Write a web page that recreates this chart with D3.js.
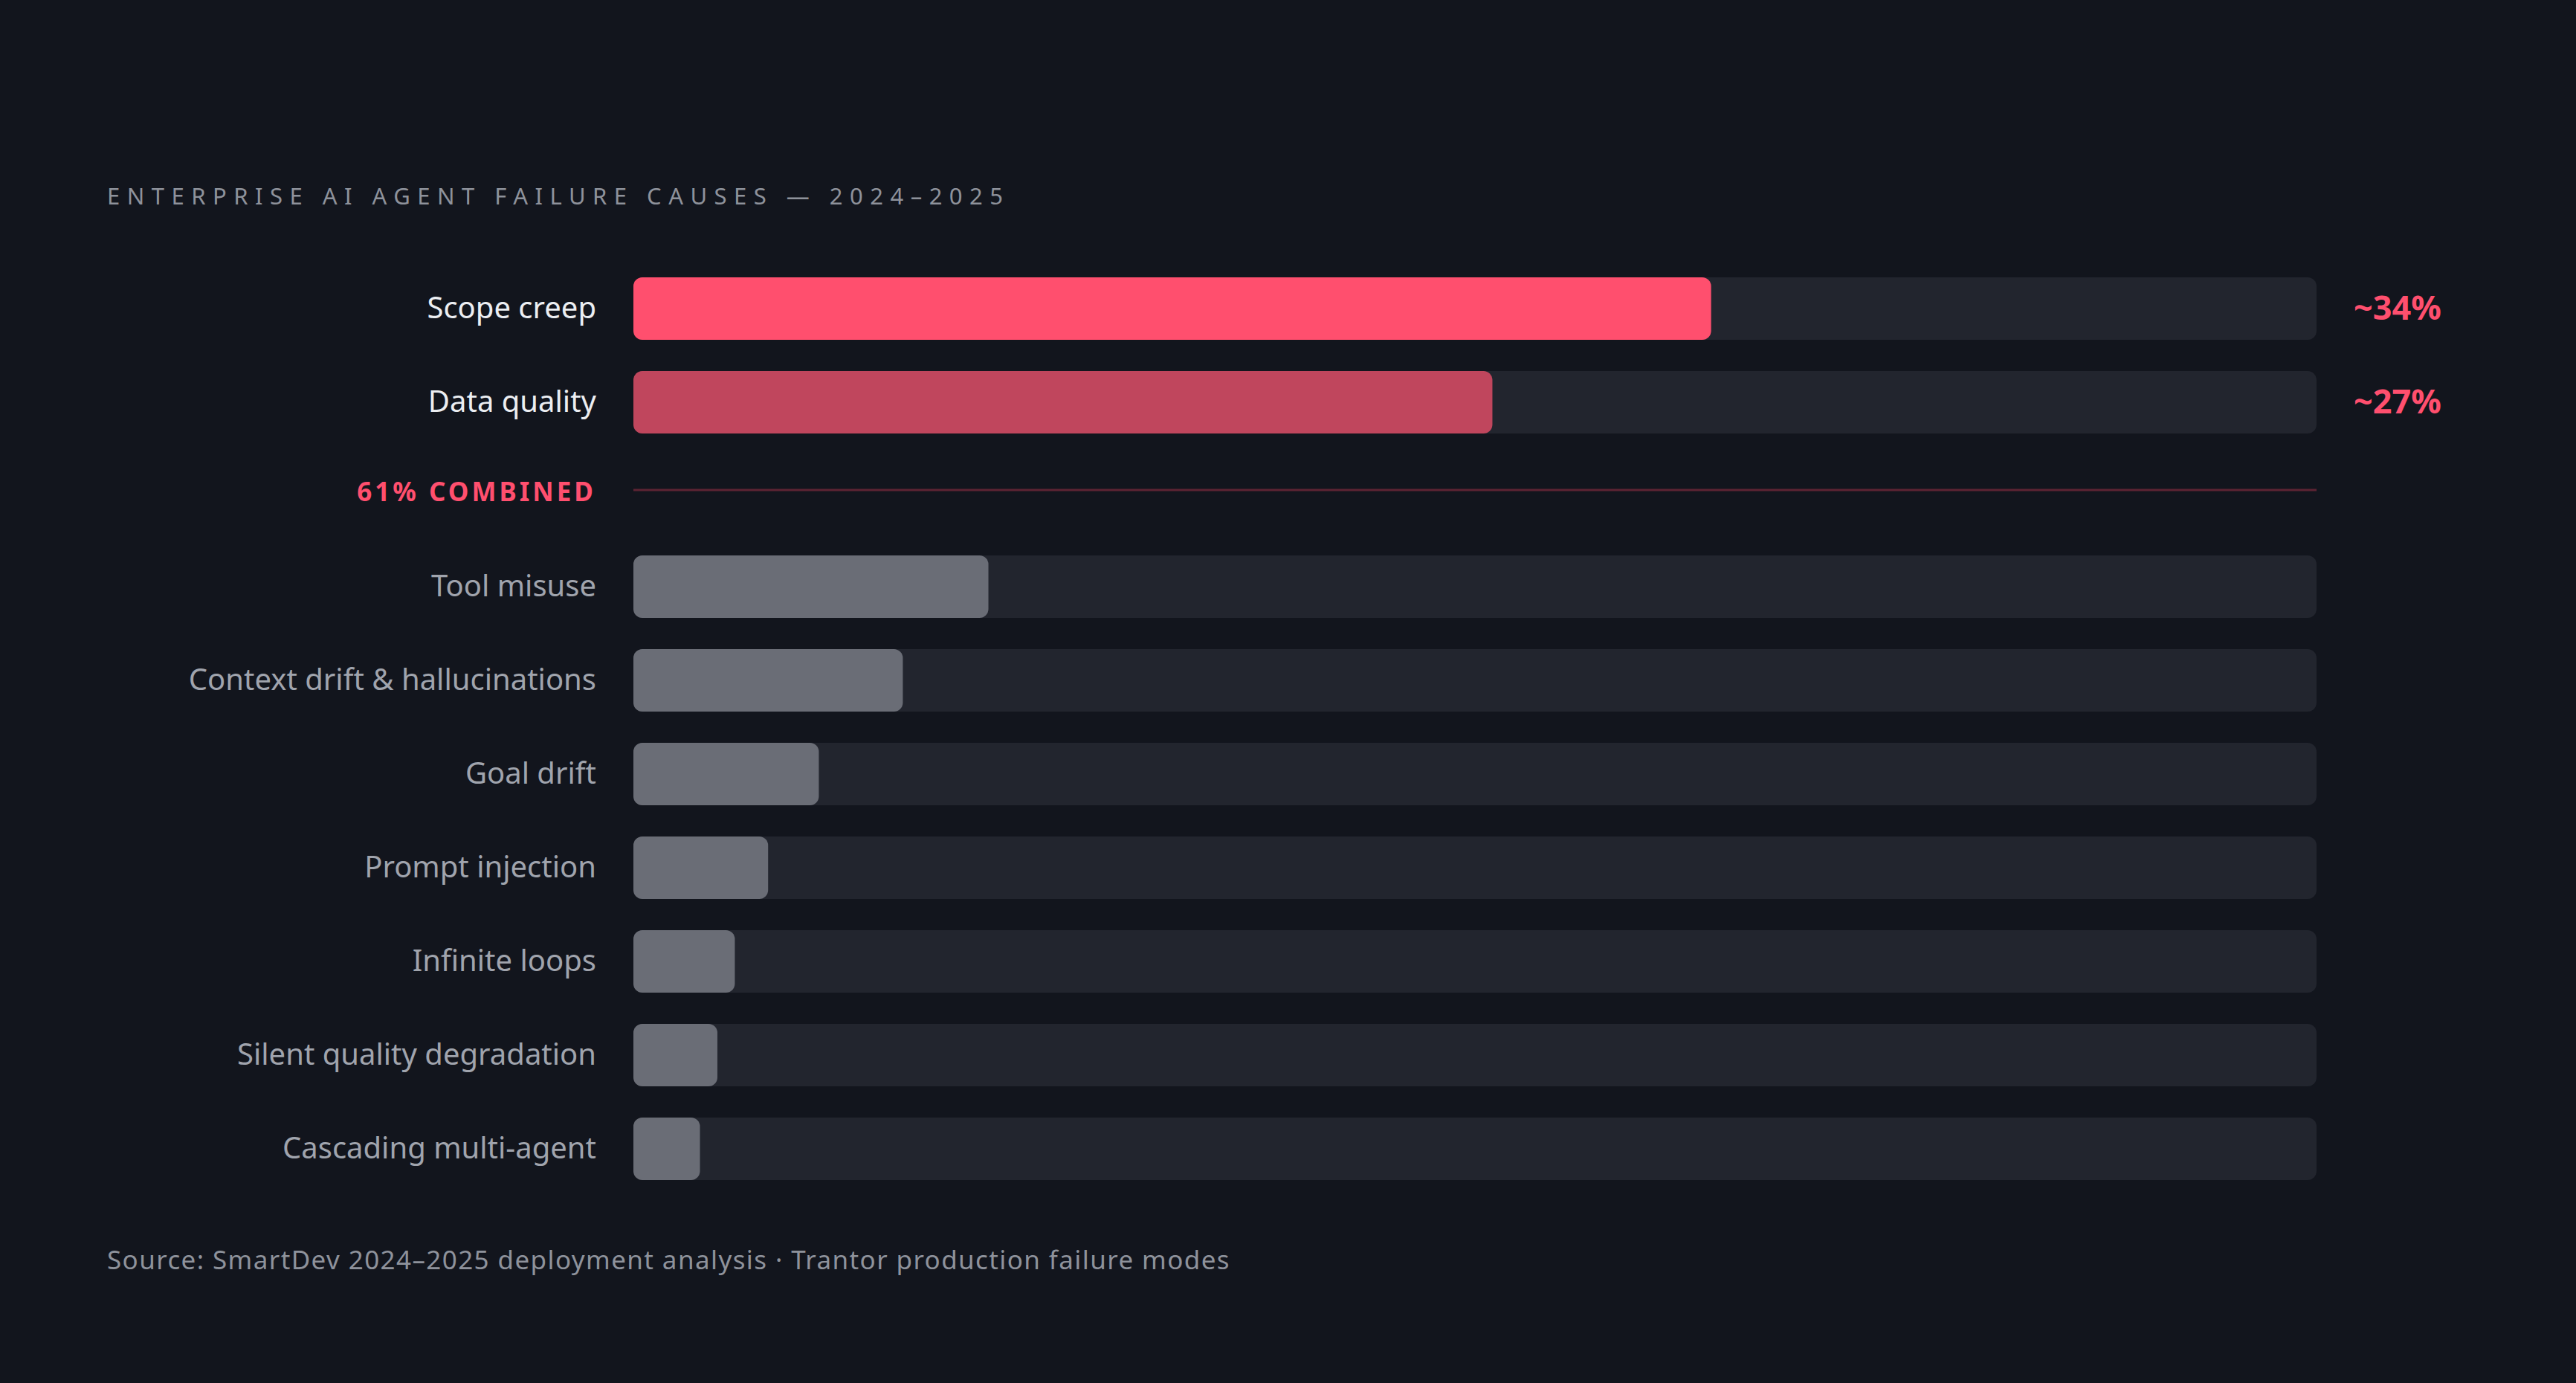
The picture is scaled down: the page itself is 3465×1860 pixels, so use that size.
<!DOCTYPE html>
<html>
<head>
	<meta charset="utf-8">
	<title>Enterprise AI agent failure causes</title>
	<script src="https://cdn.jsdelivr.net/npm/d3@7/dist/d3.min.js"></script>
	<style>
		html, body { margin: 0; padding: 0; background: #12151d; }
		svg { display: block; }
	</style>
</head>
<body>
	<svg id="chart" width="3465" height="1860"></svg>

	<script type="text/javascript">
		// data (share of failures, %)
		var categories = ["Scope creep", "Data quality", "Tool misuse", "Context drift & hallucinations",
			"Goal drift", "Prompt injection", "Infinite loops", "Silent quality degradation", "Cascading multi-agent"]
		var values = [34, 27.1, 11.2, 8.5, 5.85, 4.25, 3.2, 2.65, 2.1]
		var valueLabels = ["~34%", "~27%", "", "", "", "", "", "", ""]
		var highlighted = 2   // first two rows are the highlighted group
		var combinedLabel = "61% COMBINED"
		var xMax = 53.1

		var title = "ENTERPRISE AI AGENT FAILURE CAUSES \u2014 2024\u20132025"
		var source = "Source: SmartDev 2024\u20132025 deployment analysis \u00b7 Trantor production failure modes"

		var svg = d3.select("#chart")
		var marginLeft = 852, marginRight = 3116, marginTop = 373
		var groupGap = 122

		var x = d3.scaleLinear().domain([0, xMax]).range([marginLeft, marginRight])
		var y = d3.scaleBand().domain(categories)
			.range([marginTop, marginTop + 126 * (categories.length - 1 / 3)])
			.paddingInner(1 / 3).paddingOuter(0)

		var rows = categories.map((c, i) => ({
			name: c, value: values[i], label: valueLabels[i], i: i,
			y: y(c) + (i >= highlighted ? groupGap : 0)
		}))

		var barColors = ["#ff4f6e", "#c0465d"]

		// title
		svg.append("text")
			.attr("x", 144).attr("y", 275)
			.attr("fill", "#8e929b")
			.attr("font-family", "Noto Sans")
			.attr("font-size", 31)
			.attr("textLength", 1205)
			.attr("lengthAdjust", "spacing")
			.text(title)

		var row = svg.selectAll("g.row")
			.data(rows)
			.enter()
			.append("g")
			.attr("class", "row")
			.attr("transform", d => "translate(0," + d.y + ")")

		// track
		row.append("rect")
			.attr("x", x(0)).attr("y", 0)
			.attr("width", x(xMax) - x(0))
			.attr("height", y.bandwidth())
			.attr("rx", 12)
			.attr("fill", "#22252e")

		// value bar
		row.append("rect")
			.attr("x", x(0)).attr("y", 0)
			.attr("width", d => x(d.value) - x(0))
			.attr("height", y.bandwidth())
			.attr("rx", 12)
			.attr("fill", d => d.i < highlighted ? barColors[d.i] : "#6a6d76")

		// category labels
		row.append("text")
			.attr("x", 802)
			.attr("y", y.bandwidth() / 2)
			.attr("dy", "0.32em")
			.attr("text-anchor", "end")
			.attr("fill", d => d.i < highlighted ? "#eceef2" : "#a0a4ad")
			.attr("font-family", "Noto Sans")
			.attr("font-size", 40)
			.text(d => d.name)

		// value labels for the highlighted rows
		row.filter(d => d.label)
			.append("text")
			.attr("x", 3166)
			.attr("y", y.bandwidth() / 2)
			.attr("dy", "0.33em")
			.attr("fill", "#ff4f6e")
			.attr("font-family", "Noto Sans")
			.attr("font-weight", "bold")
			.attr("font-size", 45)
			.text(d => d.label)

		// combined divider
		var divY = y(categories[highlighted - 1]) + y.bandwidth() + 76
		svg.append("line")
			.attr("x1", x(0)).attr("x2", x(xMax))
			.attr("y1", divY).attr("y2", divY)
			.attr("stroke", "#5c2333")
			.attr("stroke-width", 3)

		svg.append("text")
			.attr("x", 802).attr("y", divY + 15)
			.attr("text-anchor", "end")
			.attr("fill", "#ff4f6e")
			.attr("font-family", "Noto Sans")
			.attr("font-weight", "bold")
			.attr("font-size", 35)
			.attr("letter-spacing", 4)
			.text(combinedLabel)

		// source
		svg.append("text")
			.attr("x", 144).attr("y", 1707)
			.attr("fill", "#8e929b")
			.attr("font-family", "Noto Sans")
			.attr("font-size", 35)
			.attr("letter-spacing", 1.4)
			.text(source)
	</script>
</body>
</html>
